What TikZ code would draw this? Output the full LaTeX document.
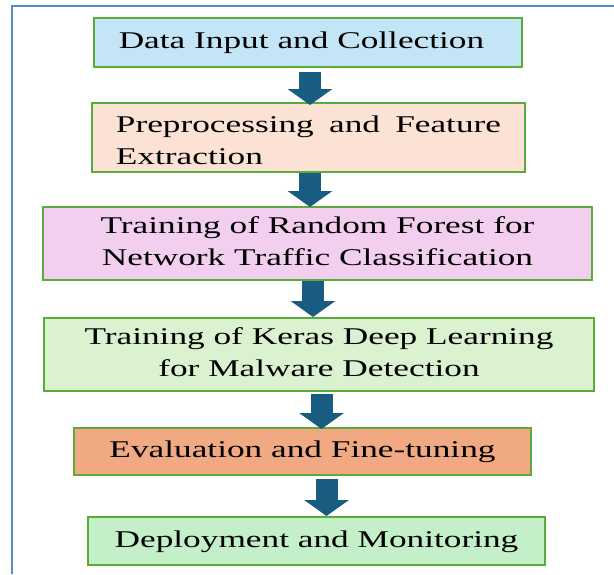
\documentclass[tikz,border=0pt]{standalone}
\usepackage{fontspec}
\setmainfont{Liberation Serif}
\usepackage{graphicx}
\usetikzlibrary{arrows.meta}

\definecolor{frameblue}{HTML}{5B8CD2}
\definecolor{boxgreen}{HTML}{5AAB3A}
\definecolor{arrowteal}{HTML}{185D7F}
\definecolor{fillinput}{HTML}{C4E5F5}
\definecolor{fillprep}{HTML}{FBE2D5}
\definecolor{fillrf}{HTML}{F2CEEF}
\definecolor{fillkeras}{HTML}{DAF2D0}
\definecolor{filleval}{HTML}{F1A983}
\definecolor{filldeploy}{HTML}{C4F0C9}

\newcommand{\wide}[2][c]{\scalebox{1.47}[1]{\begin{tabular}{@{}#1@{}}#2\end{tabular}}}

\begin{document}
\begin{tikzpicture}[x=1pt, y=-1pt,
        stage/.style={draw=boxgreen, line width=2pt, inner sep=0pt, font=\fontsize{24}{32}\selectfont},
        flow/.style={-{Triangle[length=16pt, width=44pt]}, line width=22pt, draw=arrowteal}]
        \useasboundingbox (0,0) rectangle (614,574);

        % Frame
        \draw[frameblue, line width=1.5pt] (12,574) -- (12,6) -- (614,6);

        % Boxes
        \node[stage, fill=fillinput, minimum width=428pt, minimum height=49pt] (input) at (308,42.5) {\wide{Data Input and Collection}\kern13pt};
        \node[stage, fill=fillprep, minimum width=433pt, minimum height=69pt] (prep) at (308.5,137.5) {\raisebox{-5pt}[\height][\depth]{\wide[l]{\makebox[262pt][s]{Preprocessing and Feature}\\Extraction}}};
        \node[stage, fill=fillrf, minimum width=549pt, minimum height=73pt] (rf) at (317.5,243.5) {\wide{Training of Random Forest for\\Network Traffic Classification}};
        \node[stage, fill=fillkeras, minimum width=550pt, minimum height=73pt] (keras) at (319,354.5) {\wide{Training of Keras Deep Learning\\for Malware Detection}};
        \node[stage, fill=filleval, minimum width=457pt, minimum height=47pt] (eval) at (302.5,451.5) {\wide{Evaluation and Fine-tuning}};
        \node[stage, fill=filldeploy, minimum width=457pt, minimum height=48pt] (deploy) at (316.5,541) {\wide{Deployment and Monitoring}};

        % Arrows
        \draw[flow] ([xshift=2pt, yshift=-4pt]input.south) -- ([xshift=1.5pt, yshift=-3pt]prep.north);
        \draw[flow] ([xshift=1.5pt]prep.south) -- ([xshift=-7.5pt, yshift=-1pt]rf.north);
        \draw[flow] ([xshift=-4.5pt]rf.south) -- ([xshift=-6pt]keras.north);
        \draw[flow] ([xshift=2.5pt, yshift=-2pt]keras.south) -- ([xshift=19pt, yshift=-2pt]eval.north);
        \draw[flow] ([xshift=24pt, yshift=-3pt]eval.south) -- ([xshift=10pt]deploy.north);
    \end{tikzpicture}
\end{document}
